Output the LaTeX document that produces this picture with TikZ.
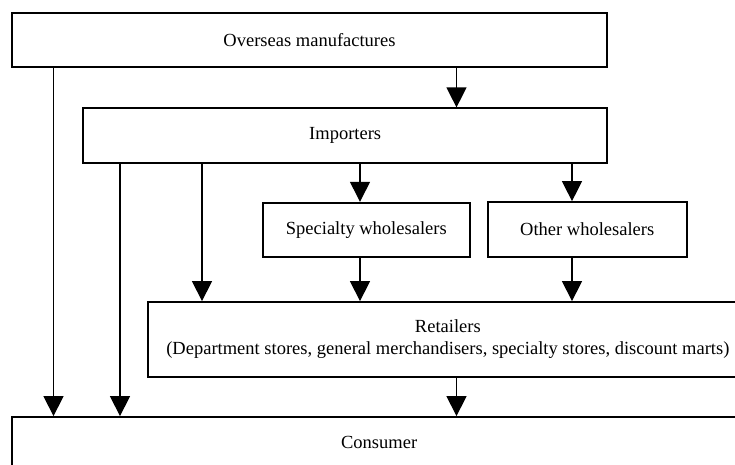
\documentclass[tikz,border=0pt]{standalone}
\usepackage{fontspec}
\setmainfont{Liberation Serif}
\usetikzlibrary{arrows.meta}
\begin{document}
\begin{tikzpicture}[x=1pt,y=-1pt,
  box/.style={draw=black,line width=1.8pt,rectangle,inner sep=0pt,align=center,
    font=\fontsize{18.5}{22}\selectfont},
  arr/.style={draw=black,line width=1.3pt,-{Triangle[width=20pt,length=20pt]}}]
\path[use as bounding box] (0,0) rectangle (735,465);
\clip (0,0) rectangle (735,465);
\fill[white] (0,0) rectangle (735,465);
\node[box,minimum width=595pt,minimum height=54pt] (over) at (309.5,39.7) {Overseas manufactures};
\node[box,minimum width=523.7pt,minimum height=54.4pt] (imp) at (345.2,135.5) {Importers};
\node[box,minimum width=207.3pt,minimum height=54.6pt] (spec) at (366.3,230) {Specialty wholesalers};
\node[box,minimum width=199pt,minimum height=54.7pt] (oth) at (587.2,229.4) {Other wholesalers};
\node[box,minimum width=600.3pt,minimum height=75pt] (ret) at (447.85,339.5) {Retailers\\(Department stores, general merchandisers, specialty stores, discount marts)};
\node[box,minimum width=733.7pt,minimum height=50pt] (con) at (379.15,442) {Consumer};
\coordinate (a1) at (53.5,0);
\coordinate (a2) at (120,0);
\coordinate (a3) at (202,0);
\coordinate (a4) at (360,0);
\coordinate (a5) at (456.5,0);
\coordinate (a6) at (572,0);
\draw[arr] (over.south -| a5) -- (imp.north -| a5);
\draw[arr] (over.south -| a1) -- (con.north -| a1);
\draw[arr] (imp.south -| a2) -- (con.north -| a2);
\draw[arr] (imp.south -| a3) -- (ret.north -| a3);
\draw[arr] (imp.south -| a4) -- (spec.north -| a4);
\draw[arr] (imp.south -| a6) -- (oth.north -| a6);
\draw[arr] (spec.south -| a4) -- (ret.north -| a4);
\draw[arr] (oth.south -| a6) -- (ret.north -| a6);
\draw[arr] (ret.south -| a5) -- (con.north -| a5);
\end{tikzpicture}
\end{document}
